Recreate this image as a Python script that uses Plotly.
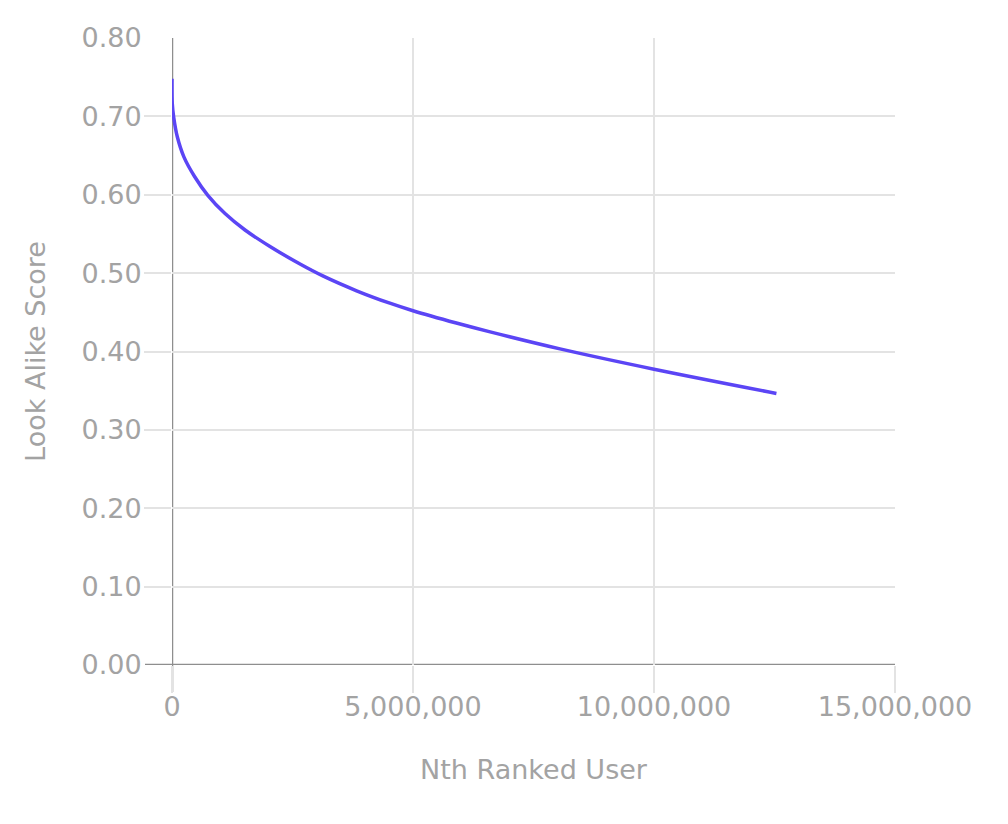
import plotly.graph_objects as go

# Data
ranked_user = [0, 6000, 35000, 110000, 249000, 471000, 747000, 1100000, 1515000,
               2033000, 2656000, 3140000, 3830000, 4520000, 5000000, 5900000,
               6600000, 8050000, 10000000, 12540000]
score = [0.748, 0.716, 0.699, 0.674, 0.648, 0.623, 0.599, 0.576, 0.555,
         0.534, 0.5116, 0.4961, 0.4775, 0.4616, 0.452, 0.4363,
         0.425, 0.4033, 0.3774, 0.3465]

x_ticks = [0, 5000000, 10000000, 15000000]
x_tick_labels = ["0", "5,000,000", "10,000,000", "15,000,000"]
y_ticks = [0.0, 0.1, 0.2, 0.3, 0.4, 0.5, 0.6, 0.7, 0.8]
y_tick_labels = ["0.00", "0.10", "0.20", "0.30", "0.40", "0.50", "0.60", "0.70", "0.80"]
y_grid = [0.1, 0.2, 0.3, 0.4, 0.5, 0.6, 0.7]

TEXT = "#a3a3a3"
GRID = "#e3e3e3"
AXIS = "#8e8e8e"
FONT = "DejaVu Sans"
FS = 27

fig = go.Figure()
fig.add_trace(go.Scatter(
    x=ranked_user, y=score, mode="lines",
    line=dict(color="#5b45f5", width=3.5, shape="spline", smoothing=0.9),
    hoverinfo="skip", showlegend=False,
))
# invisible trace to activate the grid axes
fig.add_trace(go.Scatter(x=[0], y=[0], xaxis="x2", yaxis="y2", mode="none",
                         showlegend=False, hoverinfo="skip"))

fig.update_layout(
    width=1008, height=824,
    margin=dict(l=164, r=121, t=30, b=167, autoexpand=False),
    paper_bgcolor="white", plot_bgcolor="white",
    font=dict(family=FONT, color=TEXT, size=FS),
    xaxis=dict(
        range=[0, 15000000], tickvals=x_ticks, ticktext=x_tick_labels,
        showgrid=False, zeroline=False, showline=False,
        ticks="outside", ticklen=18, tickcolor="rgba(0,0,0,0)",
        title=dict(text="Nth Ranked User", standoff=38,
                   font=dict(size=FS, color=TEXT, family=FONT)),
        tickfont=dict(size=FS, color=TEXT, family=FONT),
    ),
    xaxis2=dict(
        range=[0, 15000000], overlaying="x", side="bottom", tickvals=x_ticks,
        showgrid=True, gridcolor=GRID, gridwidth=1.5, zeroline=False,
        showticklabels=False, ticks="outside", ticklen=27,
        tickcolor=GRID, tickwidth=1.5, showline=False,
    ),
    yaxis=dict(
        range=[0, 0.8], tickvals=y_ticks, ticktext=y_tick_labels,
        showgrid=False, zeroline=False, showline=False,
        ticks="outside", ticklen=24, tickcolor="rgba(0,0,0,0)",
        title=dict(text="Look Alike Score", standoff=28,
                   font=dict(size=FS, color=TEXT, family=FONT)),
        tickfont=dict(size=FS, color=TEXT, family=FONT),
    ),
    yaxis2=dict(
        range=[0, 0.8], overlaying="y", side="left", tickvals=y_grid,
        showgrid=True, gridcolor=GRID, gridwidth=1.5, zeroline=False,
        showticklabels=False, ticks="outside", ticklen=27,
        tickcolor=GRID, tickwidth=1.5, showline=False,
    ),
    shapes=[
        dict(type="line", xref="x", yref="paper", x0=0, x1=0, y0=-27/627, y1=1,
             line=dict(color=AXIS, width=2.5), layer="below"),
        dict(type="line", xref="paper", yref="y", x0=-27/723, x1=1, y0=0, y1=0,
             line=dict(color=AXIS, width=2.5), layer="below"),
    ],
)

fig.write_html("out.html")
